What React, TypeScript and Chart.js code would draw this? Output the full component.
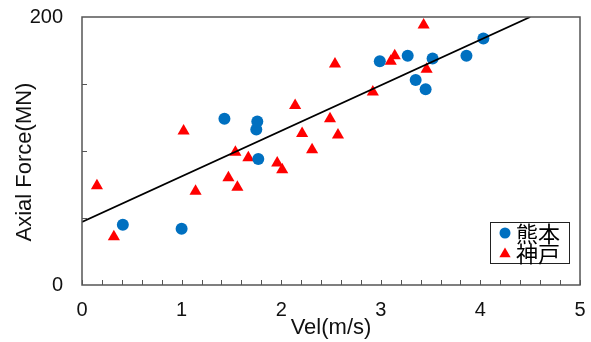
import React, { useEffect, useRef } from "react";
import { Chart, registerables } from "chart.js";

Chart.register(...registerables);

const kumamotoX = [0.41, 1.0, 1.43, 1.75, 1.76, 1.77, 2.99, 3.27, 3.35, 3.45, 3.52, 3.86, 4.03];
const kumamotoY = [45, 42, 124, 116, 122, 94, 167, 171, 153, 146, 169, 171, 184];

const kobeX = [0.15, 0.32, 1.02, 1.14, 1.47, 1.54, 1.56, 1.67, 1.96, 2.01, 2.14, 2.21, 2.31, 2.49, 2.54, 2.57, 2.92, 3.1, 3.14, 3.43, 3.46];
const kobeY = [74, 36, 115, 70, 80, 99, 73, 95, 91, 86, 134, 113, 101, 124, 165, 112, 144, 167, 171, 194, 161];

const fitX = [0, 4.5];
const fitY = [47, 200];

const xMinorTicks = [0, 0.2, 0.4, 0.6, 0.8, 1, 1.2, 1.4, 1.6, 1.8, 2, 2.2, 2.4, 2.6, 2.8, 3, 3.2, 3.4, 3.6, 3.8, 4, 4.2, 4.4, 4.6, 4.8, 5];
const yMinorTicks = [50, 100, 150];

const seriesLabels = ["熊本", "神戸"];
const xTitle = "Vel(m/s)";
const yTitle = "Axial Force(MN)";

const BLUE = "#0070C0";
const RED = "#FF0000";
const FONT = "'Liberation Sans', Arial, sans-serif";

const framePlugin = {
  id: "frame",
  afterDatasetsDraw(chart: any) {
    const { ctx, chartArea, scales } = chart;
    const { left, right, top, bottom } = chartArea;
    ctx.save();
    ctx.strokeStyle = "#555";
    ctx.lineWidth = 1.5;
    ctx.strokeRect(left, top, right - left, bottom - top);
    ctx.beginPath();
    for (const v of xMinorTicks) {
      const px = Math.round(scales.x.getPixelForValue(v)) + 0.5;
      ctx.moveTo(px, bottom);
      ctx.lineTo(px, bottom - 5);
    }
    for (const v of yMinorTicks) {
      const py = Math.round(scales.y.getPixelForValue(v)) + 0.5;
      ctx.moveTo(left, py);
      ctx.lineTo(left + 5, py);
    }
    ctx.lineWidth = 1;
    ctx.stroke();

    // legend
    const bw = 79, bh = 41;
    const bx = right - 11 - bw;
    const by = bottom - 22 - bh;
    ctx.fillStyle = "#fff";
    ctx.fillRect(bx, by, bw, bh);
    ctx.strokeStyle = "#222";
    ctx.lineWidth = 1;
    ctx.strokeRect(bx + 0.5, by + 0.5, bw, bh);
    const rows = [by + 11, by + 31];
    ctx.fillStyle = BLUE;
    ctx.beginPath();
    ctx.arc(bx + 15, rows[0], 5.5, 0, Math.PI * 2);
    ctx.fill();
    ctx.fillStyle = RED;
    ctx.beginPath();
    const tx = bx + 15, ty = rows[1] + 1, r = 6.5;
    ctx.moveTo(tx, ty - r);
    ctx.lineTo(tx + r * 0.866, ty + r * 0.5);
    ctx.lineTo(tx - r * 0.866, ty + r * 0.5);
    ctx.closePath();
    ctx.fill();
    ctx.fillStyle = "#000";
    ctx.font = "22px 'Noto Sans CJK JP', sans-serif";
    ctx.textBaseline = "middle";
    ctx.textAlign = "left";
    ctx.fillText(seriesLabels[0], bx + 26, rows[0] + 1);
    ctx.fillText(seriesLabels[1], bx + 26, rows[1] + 1);

    // y title
    ctx.save();
    ctx.translate(25, 162);
    ctx.rotate(-Math.PI / 2);
    ctx.font = "22px " + FONT;
    ctx.textAlign = "center";
    ctx.textBaseline = "middle";
    ctx.fillStyle = "#111";
    ctx.fillText(yTitle, 0, 0);
    ctx.restore();
    ctx.restore();
  },
};

function zeroPadding(scale: any) {
  scale.paddingTop = 0;
  scale.paddingBottom = 0;
  scale.paddingLeft = 0;
  scale.paddingRight = 0;
}

export default function App() {
  const ref = useRef<HTMLCanvasElement>(null);
  useEffect(() => {
    document.body.style.margin = "0";
    const chart = new Chart(ref.current!, {
      type: "scatter",
      data: {
        datasets: [
          {
            label: seriesLabels[0],
            data: kumamotoX.map((x, i) => ({ x, y: kumamotoY[i] })),
            backgroundColor: BLUE,
            borderColor: BLUE,
            pointStyle: "circle",
            pointRadius: 6,
            borderWidth: 0,
          },
          {
            label: seriesLabels[1],
            data: kobeX.map((x, i) => ({ x, y: kobeY[i] })),
            backgroundColor: RED,
            borderColor: RED,
            pointStyle: "triangle",
            pointRadius: 7,
            borderWidth: 0,
          },
          {
            type: "line",
            label: "fit",
            data: fitX.map((x, i) => ({ x, y: fitY[i] })),
            borderColor: "#000",
            borderWidth: 1.8,
            pointRadius: 0,
            showLine: true,
            fill: false,
            order: -1,
          } as any,
        ],
      },
      options: {
        animation: false,
        responsive: true,
        maintainAspectRatio: false,
        layout: { autoPadding: false, padding: { top: 17, right: 11, left: 0, bottom: 0 } },
        plugins: { legend: { display: false }, tooltip: { enabled: false } },
        scales: {
          x: {
            type: "linear",
            min: 0,
            max: 5,
            grid: { display: false, drawTicks: false },
            border: { display: false },
            ticks: {
              stepSize: 1,
              padding: 13,
              color: "#111",
              font: { family: FONT, size: 20 },
            },
            title: {
              display: true,
              text: xTitle,
              color: "#111",
              font: { family: FONT, size: 22 },
              padding: { top: 0, bottom: 1 },
            },
            afterFit(scale: any) {
              scale.height = 57;
              zeroPadding(scale);
            },
          },
          y: {
            type: "linear",
            min: 0,
            max: 200,
            grid: { display: false, drawTicks: false },
            border: { display: false },
            ticks: {
              stepSize: 200,
              padding: 19,
              color: "#111",
              font: { family: FONT, size: 20 },
            },
            afterFit(scale: any) {
              scale.width = 82;
              zeroPadding(scale);
            },
          },
        },
      },
      plugins: [framePlugin],
    });
    return () => chart.destroy();
  }, []);
  return (
    <div style={{ width: 591, height: 342, position: "relative" }}>
      <canvas ref={ref} />
    </div>
  );
}
